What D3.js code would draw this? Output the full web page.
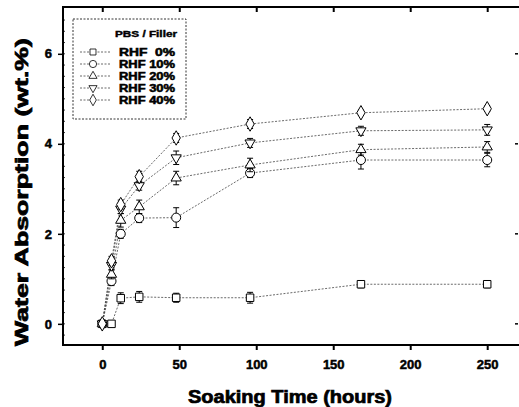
<!DOCTYPE html>
<html>
<head>
<meta charset="utf-8">
<script src="https://cdn.jsdelivr.net/npm/d3@7/dist/d3.min.js"></script>
<style>
  body { margin: 0; background: #fff; }
  text { font-family: "Liberation Sans", Arial, sans-serif; font-weight: bold; fill: #000; stroke: #000; }
</style>
</head>
<body>
<div id="chart"></div>
<script>
// Data
const hours = [0, 6, 12, 24, 48, 96, 168, 250]
const seriesNames = ['RHF  0%', 'RHF 10%', 'RHF 20%', 'RHF 30%', 'RHF 40%']
const rhf0  = [0, 0,    0.57, 0.6,  0.58, 0.58, 0.88, 0.88]
const rhf10 = [0, 0.95, 2.0,  2.35, 2.36, 3.35, 3.64, 3.64]
const rhf20 = [0, 1.1,  2.3,  2.6,  3.24, 3.53, 3.87, 3.93]
const rhf30 = [0, 1.3,  2.55, 3.07, 3.69, 4.02, 4.29, 4.31]
const rhf40 = [0, 1.4,  2.65, 3.27, 4.13, 4.44, 4.69, 4.78]
const err0  = [0, 0,    0.12, 0.12, 0.1,  0.12, 0.08, 0.08]
const err10 = [0, 0.1,  0.1,  0.1,  0.22, 0.1,  0.2,  0.15]
const err20 = [0, 0.1,  0.15, 0.15, 0.15, 0.15, 0.12, 0.12]
const err30 = [0, 0.1,  0.1,  0.1,  0.15, 0.1,  0.1,  0.12]
const err40 = [0, 0.1,  0.1,  0.12, 0.1,  0.1,  0.06, 0.06]
const xTicks = [0, 50, 100, 150, 200, 250]
const yTicks = [0, 2, 4, 6]

const values = [rhf0, rhf10, rhf20, rhf30, rhf40]
const errors = [err0, err10, err20, err30, err40]

// Dimensions
let dimensions = {
  width: 519,
  height: 407,
  margin: { top: 7, bottom: 62, left: 63, right: 1 }
}

const svg = d3.select('#chart')
  .append('svg')
  .attr('width', dimensions.width)
  .attr('height', dimensions.height)

const containerWidth = dimensions.width - dimensions.margin.left - dimensions.margin.right
const containerHeight = dimensions.height - dimensions.margin.top - dimensions.margin.bottom

const container = svg.append('g')
  .attr('transform', `translate(${dimensions.margin.left},${dimensions.margin.top})`)

// Scales
const xScale = d3.scaleLinear().domain([-25.5, 270]).range([0, containerWidth])
const yScale = d3.scaleLinear().domain([-0.47, 7.04]).range([containerHeight, 0])

// symbols
const tri = d3.symbol().type(d3.symbolTriangle).size(45)()
const symbols = [
  { d: d3.symbol().type(d3.symbolSquare).size(56)(), rot: 0 },
  { d: d3.symbol().type(d3.symbolCircle).size(64)(), rot: 0 },
  { d: tri, rot: 0 },
  { d: tri, rot: 180 },
  { d: d3.symbol().type(d3.symbolDiamond).size(60)(), rot: 0 }
]

// Axes
const xAxis = d3.axisBottom(xScale).tickValues(xTicks).tickSize(5).tickPadding(10)
const xAxisGroup = container.append('g')
  .attr('transform', `translate(0,${containerHeight})`)
  .call(xAxis)
xAxisGroup.select('.domain').remove()
xAxisGroup.selectAll('line').attr('stroke-width', 2)
xAxisGroup.selectAll('text')
  .attr('font-size', '13px').attr('font-weight', 'bold')
  .attr('fill', '#000').attr('stroke-width', 0.5)

const xTop = container.append('g')
  .call(d3.axisTop(xScale).tickValues(xTicks).tickSize(-5).tickFormat(''))
xTop.select('.domain').remove()
xTop.selectAll('line').attr('stroke-width', 2)

const yAxis = d3.axisLeft(yScale).tickValues(yTicks).tickSize(5).tickPadding(6)
const yAxisGroup = container.append('g').call(yAxis)
yAxisGroup.select('.domain').remove()
yAxisGroup.selectAll('line').attr('stroke-width', 1.5)
yAxisGroup.selectAll('text')
  .attr('font-size', '13px').attr('font-weight', 'bold')
  .attr('fill', '#000').attr('stroke-width', 0.5)

// minor ticks on left spine
container.append('g')
  .selectAll('line')
  .data(d3.range(-0.25, 7, 0.25))
  .join('line')
  .attr('x1', 0).attr('x2', 2)
  .attr('y1', d => yScale(d)).attr('y2', d => yScale(d))
  .attr('stroke', '#000').attr('stroke-width', 0.8)

// right side tick dots
container.append('g')
  .selectAll('line')
  .data(yTicks)
  .join('line')
  .attr('x1', containerWidth - 3).attr('x2', containerWidth)
  .attr('y1', d => yScale(d)).attr('y2', d => yScale(d))
  .attr('stroke', '#000').attr('stroke-width', 1.5)

// Frame
container.append('rect')
  .attr('x', 0).attr('y', 0)
  .attr('width', containerWidth + 4).attr('height', containerHeight)
  .attr('fill', 'none').attr('stroke', '#000').attr('stroke-width', 2)

// Lines
const line = d3.line()
  .x((d, i) => xScale(hours[i]))
  .y(d => yScale(d))

container.selectAll('.series-line')
  .data(values)
  .join('path')
  .attr('class', 'series-line')
  .attr('d', line)
  .attr('fill', 'none')
  .attr('stroke', '#444')
  .attr('stroke-width', 0.8)
  .attr('stroke-dasharray', '2,1.5')

// Error bars + markers
values.forEach((vals, s) => {
  const g = container.append('g')
  const pts = vals.map((v, i) => ({ x: hours[i], y: v, e: errors[s][i] }))
  const eb = g.selectAll('.eb').data(pts.filter(p => p.e > 0)).join('g')
  eb.append('line')
    .attr('x1', d => xScale(d.x)).attr('x2', d => xScale(d.x))
    .attr('y1', d => yScale(d.y - d.e)).attr('y2', d => yScale(d.y + d.e))
    .attr('stroke', '#000').attr('stroke-width', 1)
  eb.append('line')
    .attr('x1', d => xScale(d.x) - 3).attr('x2', d => xScale(d.x) + 3)
    .attr('y1', d => yScale(d.y - d.e)).attr('y2', d => yScale(d.y - d.e))
    .attr('stroke', '#000').attr('stroke-width', 1)
  eb.append('line')
    .attr('x1', d => xScale(d.x) - 3).attr('x2', d => xScale(d.x) + 3)
    .attr('y1', d => yScale(d.y + d.e)).attr('y2', d => yScale(d.y + d.e))
    .attr('stroke', '#000').attr('stroke-width', 1)
  g.selectAll('.pt').data(pts).join('path')
    .attr('d', symbols[s].d)
    .attr('transform', d => `translate(${xScale(d.x)},${yScale(d.y)}) rotate(${symbols[s].rot})`)
    .attr('fill', '#fff')
    .attr('stroke', '#000')
    .attr('stroke-width', 1)
})

// Legend
const legend = container.append('g').attr('transform', 'translate(10,12)')
legend.append('rect')
  .attr('width', 113).attr('height', 100)
  .attr('fill', '#fff').attr('stroke', '#000')
  .attr('stroke-width', 0.8).attr('stroke-dasharray', '2,1.5')
legend.append('text')
  .attr('x', 42).attr('y', 18)
  .attr('font-size', '9px')
  .attr('stroke-width', 0.4)
  .attr('textLength', 62).attr('lengthAdjust', 'spacingAndGlyphs')
  .text('PBS / Filler')
seriesNames.forEach((name, i) => {
  const yy = 33 + i * 12
  legend.append('line')
    .attr('x1', 7).attr('x2', 37).attr('y1', yy).attr('y2', yy)
    .attr('stroke', '#444').attr('stroke-width', 0.8).attr('stroke-dasharray', '2,1.5')
  legend.append('path')
    .attr('d', symbols[i].d)
    .attr('transform', `translate(20,${yy}) rotate(${symbols[i].rot}) scale(0.8)`)
    .attr('fill', '#fff').attr('stroke', '#000').attr('stroke-width', 1)
  legend.append('text')
    .attr('x', 46).attr('y', yy + 4)
    .attr('font-size', '10px')
    .attr('stroke-width', 0.5)
    .attr('xml:space', 'preserve')
    .style('white-space', 'pre')
    .attr('textLength', 56).attr('lengthAdjust', 'spacingAndGlyphs')
    .text(name)
})

// Axis titles
svg.append('text')
  .attr('x', 290).attr('y', 403)
  .attr('text-anchor', 'middle')
  .attr('font-size', '18px')
  .attr('stroke-width', 0.7)
  .attr('textLength', 204).attr('lengthAdjust', 'spacingAndGlyphs')
  .text('Soaking Time (hours)')

svg.append('text')
  .attr('transform', 'translate(28,192) rotate(-90)')
  .attr('text-anchor', 'middle')
  .attr('font-size', '18px')
  .attr('stroke-width', 0.7)
  .attr('textLength', 308).attr('lengthAdjust', 'spacingAndGlyphs')
  .text('Water Absorption (wt.%)')
</script>
</body>
</html>
